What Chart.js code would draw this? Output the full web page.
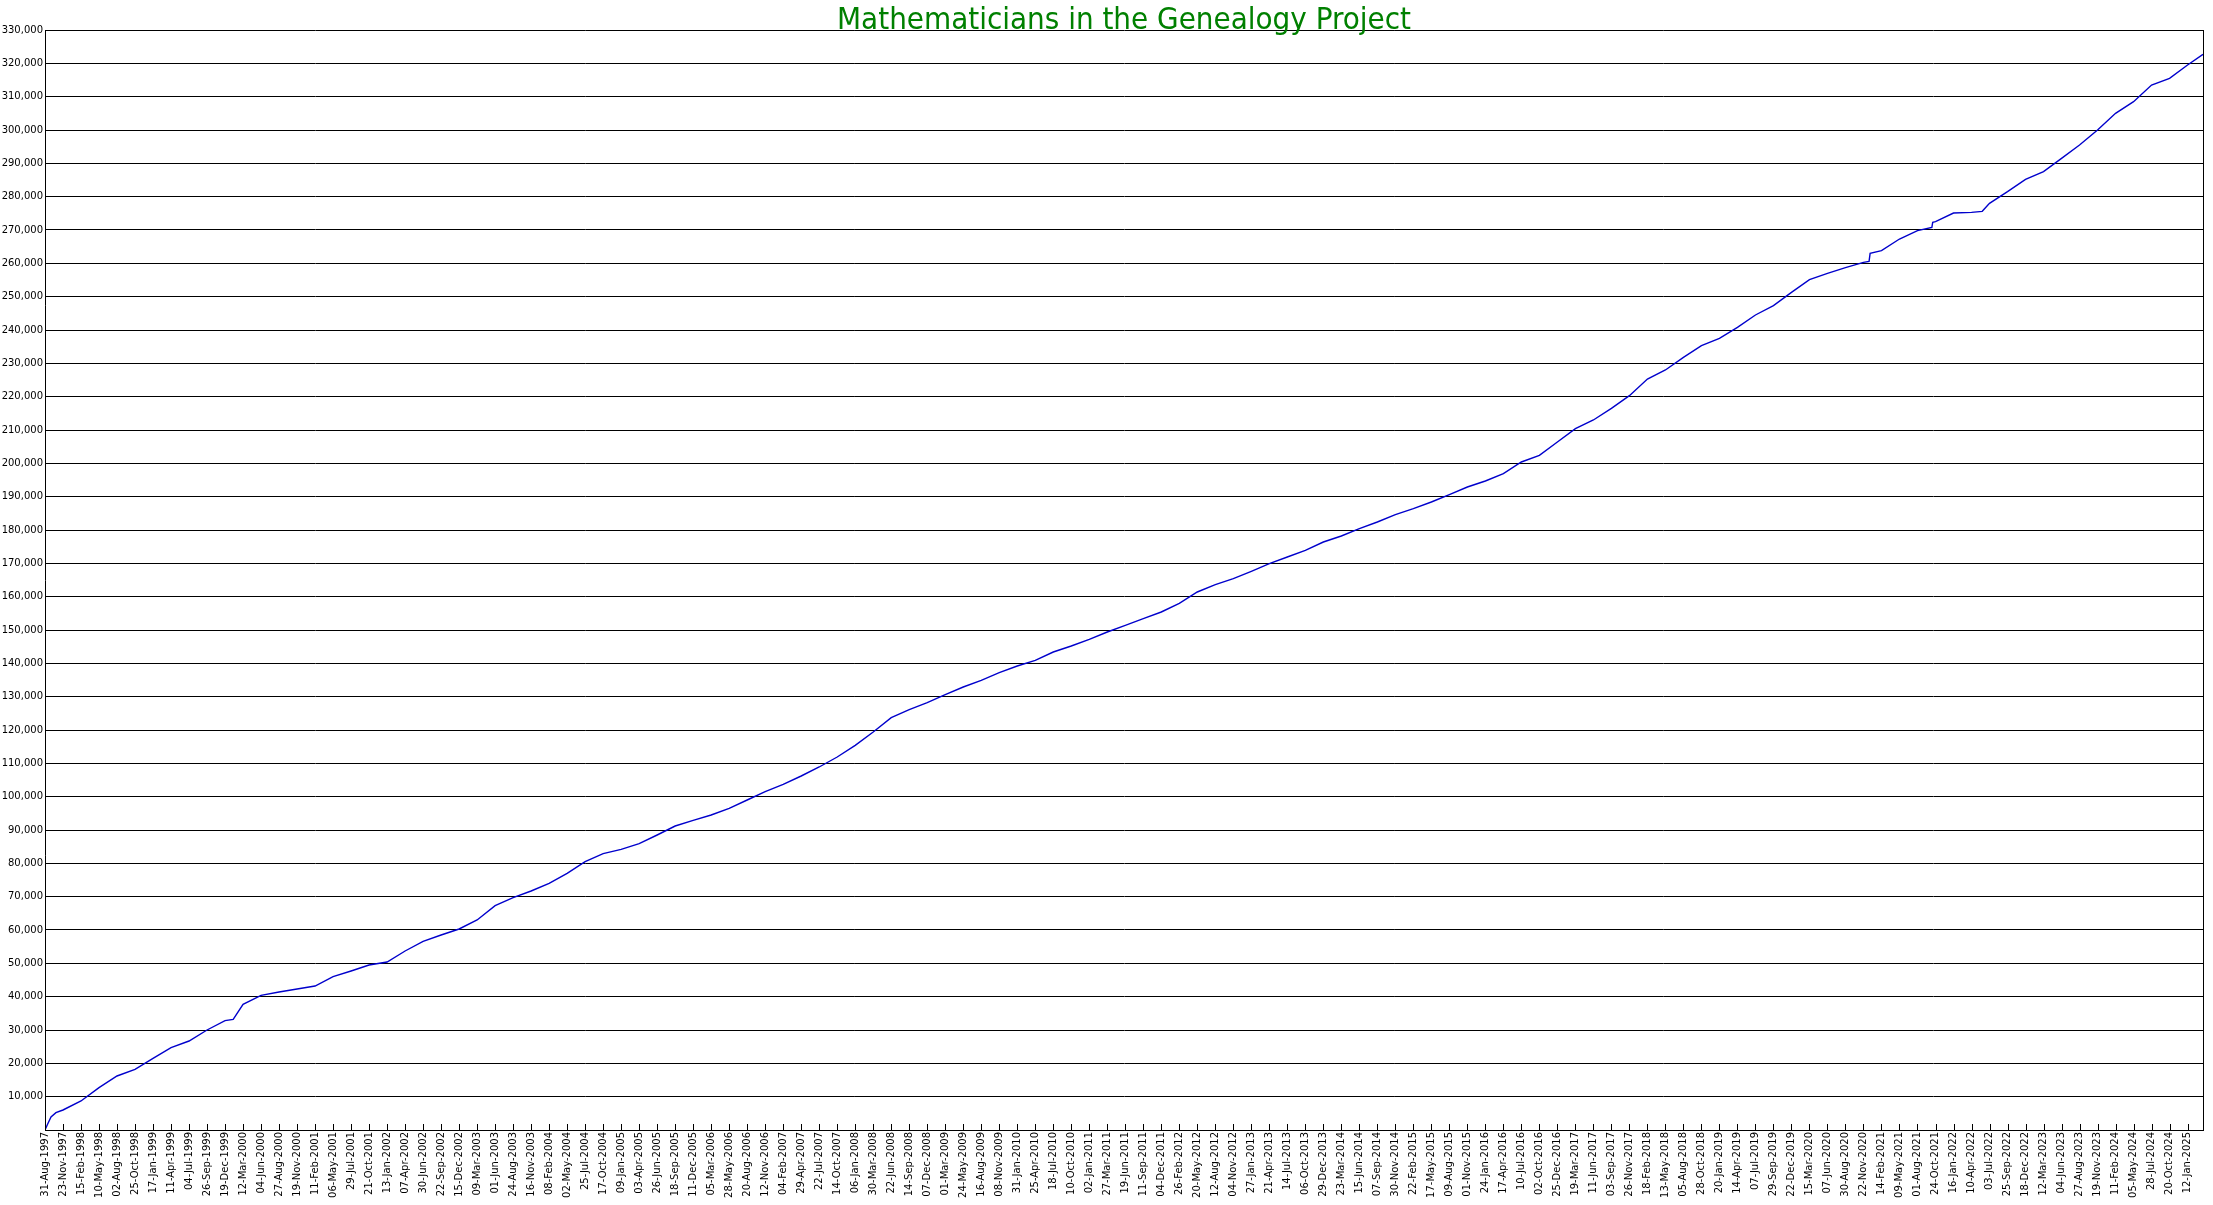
<!DOCTYPE html>
<html>
<head>
<meta charset="utf-8">
<title>Mathematicians in the Genealogy Project</title>
<script src="https://cdn.jsdelivr.net/npm/chart.js@4"></script>
<style>
  html, body { margin: 0; padding: 0; background: #fff; }
  canvas { display: block; }
</style>
</head>
<body>
<canvas id="cv" width="2213" height="1205"></canvas>
<script>
/* ---- data ---- */
const startDate = Date.UTC(1997, 7, 31);   // 31-Aug-1997, day 0
const tickStepDays = 84;                    // one label every 12 weeks
const tickCount = 120;                      // 31-Aug-1997 ... 12-Jan-2025
const endDay = 10068;                       // right edge of the plot

// days since 31-Aug-1997
const sampleDays = [
  0, 12, 28, 51, 84, 168, 252, 336, 420, 504, 588, 672, 756,
  840, 878, 924, 1008, 1092, 1176, 1260, 1344, 1428, 1512, 1596, 1680,
  1764, 1848, 1932, 2016, 2100, 2184, 2268, 2352, 2436, 2520,
  2604, 2688, 2772, 2856, 2940, 3024, 3108, 3192, 3276, 3360,
  3444, 3528, 3612, 3696, 3780, 3864, 3948, 4032, 4116, 4200,
  4284, 4368, 4452, 4536, 4620, 4704, 4788, 4872, 4956, 5040,
  5124, 5208, 5292, 5376, 5460, 5544, 5628, 5712, 5796, 5880,
  5964, 6048, 6132, 6216, 6300, 6384, 6468, 6552, 6636, 6720,
  6804, 6888, 6972, 7056, 7140, 7224, 7308, 7392, 7476, 7560,
  7644, 7728, 7812, 7896, 7980, 8064, 8148, 8232, 8316, 8400,
  8484, 8510, 8515, 8568, 8652, 8736, 8803, 8807, 8820, 8904, 8988, 9038, 9072,
  9156, 9240, 9324, 9408, 9492, 9576, 9660, 9744, 9828, 9912, 9996, 10068
];

// number of mathematicians in the database
const mathematicians = [
  0, 1700, 3900, 5200, 6000, 8700, 12700, 16200, 18200, 21500, 24700, 26700, 30000,
  32800, 33200, 37700, 40400, 41400, 42300, 43200, 46000, 47700, 49500, 50400, 53700,
  56600, 58500, 60300, 63000, 67300, 69700, 71700, 74000, 77000, 80500,
  82900, 84200, 85900, 88500, 91200, 92900, 94500, 96500, 99000, 101500,
  103700, 106200, 108900, 111900, 115400, 119400, 123700, 126100, 128200, 130600,
  132900, 134900, 137200, 139200, 140900, 143400, 145200, 147200, 149400, 151400,
  153400, 155400, 158000, 161400, 163600, 165400, 167600, 169900, 171900, 173900,
  176400, 178200, 180400, 182400, 184600, 186400, 188400, 190600, 192900, 194700,
  196900, 200400, 202400, 206400, 210400, 213000, 216500, 220300, 225300, 228000,
  231800, 235300, 237500, 240800, 244500, 247300, 251300, 255100, 257000, 258700,
  260300, 260600, 263000, 263800, 267300, 269800, 270800, 272300, 272500, 275100, 275300, 275600, 278000,
  281500, 285200, 287500, 291500, 295500, 300000, 305000, 308500, 313500, 315500, 319500, 322700
];

const yMax = 330000;
const yStep = 10000;
const chartTitle = 'Mathematicians in the Genealogy Project';

/* ---- tick labels (calendar dates every 84 days) ---- */
const MONTHS = ['Jan','Feb','Mar','Apr','May','Jun','Jul','Aug','Sep','Oct','Nov','Dec'];
const tickDays = [];
for (let i = 0; i < tickCount; i++) tickDays.push(i * tickStepDays);
function dayLabel(d){
  const dt = new Date(startDate + d * 86400000);
  const dd = String(dt.getUTCDate()).padStart(2, '0');
  return dd + '-' + MONTHS[dt.getUTCMonth()] + '-' + dt.getUTCFullYear();
}

/* title, inner tick marks and right edge of the frame */
const framePlugin = {
  id: 'frame',
  afterDraw(chart){
    const {ctx, chartArea: a, scales: {x}} = chart;
    ctx.save();
    ctx.strokeStyle = '#000';
    ctx.lineWidth = 1;
    ctx.beginPath();
    tickDays.forEach(d => {
      const px = Math.round(x.getPixelForValue(d)) + 0.5;
      ctx.moveTo(px, a.bottom);
      ctx.lineTo(px, a.bottom - 6);
    });
    ctx.moveTo(Math.round(a.right) + 0.5, a.top);
    ctx.lineTo(Math.round(a.right) + 0.5, a.bottom);
    ctx.stroke();

    ctx.fillStyle = '#008000';
    ctx.font = '31px "DejaVu Sans Condensed", "Liberation Sans Narrow", "DejaVu Sans", sans-serif';
    ctx.textAlign = 'center';
    ctx.textBaseline = 'alphabetic';
    ctx.fillText(chartTitle, (a.left + a.right) / 2, 29);
    ctx.restore();
  }
};

new Chart(document.getElementById('cv'), {
  type: 'line',
  data: {
    datasets: [{
      label: 'Mathematicians',
      data: sampleDays.map((d, i) => ({x: d, y: mathematicians[i]})),
      borderColor: '#0000cc',
      borderWidth: 1.4,
      pointRadius: 0,
      tension: 0,
      fill: false
    }]
  },
  options: {
    responsive: false,
    devicePixelRatio: 1,
    animation: false,
    layout: { padding: { top: 30, right: 10, left: 0, bottom: 0 } },
    plugins: { legend: { display: false }, title: { display: false }, tooltip: { enabled: false } },
    scales: {
      x: {
        type: 'linear',
        min: 0,
        max: endDay,
        afterBuildTicks(scale){ scale.ticks = tickDays.map(v => ({value: v})); },
        afterFit(scale){ scale.height = 75; },
        grid: { display: false, drawTicks: false },
        border: { display: true, color: '#000', width: 1 },
        ticks: {
          autoSkip: false,
          minRotation: 90,
          maxRotation: 90,
          padding: 2,
          color: '#000',
          font: { family: '"DejaVu Sans", sans-serif', size: 10 },
          callback: v => dayLabel(v)
        }
      },
      y: {
        min: 0,
        max: yMax,
        afterFit(scale){ scale.width = 45; },
        grid: { color: '#000', lineWidth: 1, drawTicks: false },
        border: { display: true, color: '#000', width: 1 },
        ticks: {
          stepSize: yStep,
          padding: 2,
          color: '#000',
          font: { family: '"DejaVu Sans", sans-serif', size: 10 },
          callback: v => v === 0 ? '' : v.toLocaleString('en-US')
        }
      }
    }
  },
  plugins: [framePlugin]
});
</script>
</body>
</html>
